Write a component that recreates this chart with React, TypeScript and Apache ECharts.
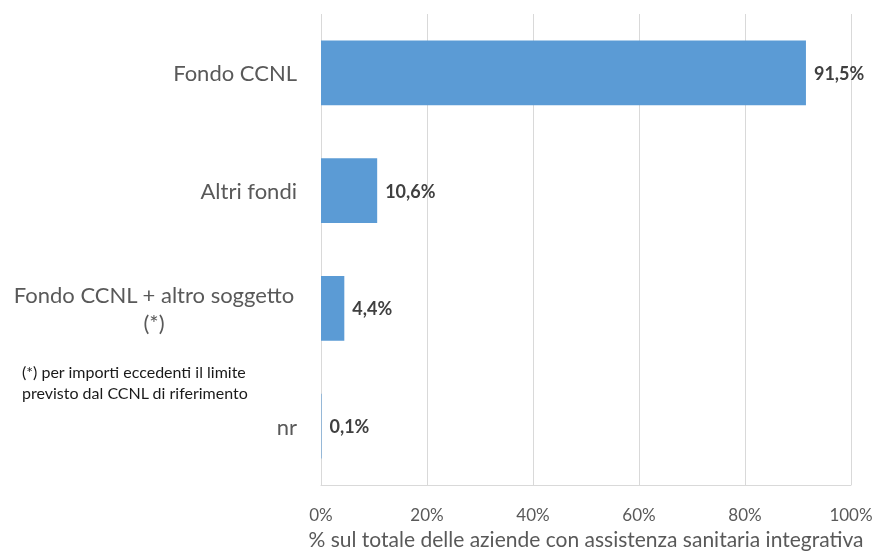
import React, { useEffect, useRef } from "react";
import * as echarts from "echarts";

const categories = ["Fondo CCNL", "Altri fondi", "Fondo CCNL + altro soggetto\n(*)", "nr"];
const values = [91.5, 10.6, 4.4, 0.1];
const xTicks = [0, 20, 40, 60, 80, 100];
const axisTitle = "% sul totale delle aziende con assistenza sanitaria integrativa";
const footnoteLines = ["(*) per importi eccedenti il limite", "previsto dal CCNL di riferimento"];

const FONT = "Lato, 'Noto Sans', sans-serif";

export default function App() {
  const ref = useRef<HTMLDivElement>(null);
  useEffect(() => {
    if (!ref.current) return;
    document.body.style.margin = "0";
    const chart = echarts.init(ref.current, undefined, { renderer: "svg" });
    chart.setOption({
      animation: false,
      textStyle: { fontFamily: FONT },
      grid: { left: 321, right: 26, top: 14, bottom: 65, containLabel: false },
      xAxis: {
        type: "value",
        min: xTicks[0],
        max: xTicks[xTicks.length - 1],
        interval: 20,
        axisLine: { show: true, lineStyle: { color: "#d9d9d9", width: 1 } },
        axisTick: { show: false },
        splitLine: { show: true, lineStyle: { color: "#d9d9d9", width: 1 } },
        axisLabel: {
          formatter: (v: number) => `${v}%`,
          color: "#595959",
          fontSize: 17,
          fontFamily: FONT,
          margin: 21,
        },
        name: axisTitle,
        nameLocation: "middle",
        nameGap: 43,
        nameTextStyle: { color: "#595959", fontSize: 21, fontFamily: FONT },
      },
      yAxis: {
        type: "category",
        data: categories,
        inverse: true,
        axisLine: { show: false },
        axisTick: { show: false },
        axisLabel: {
          color: "#595959",
          fontSize: 22,
          fontFamily: FONT,
          margin: 24,
          lineHeight: 28,
          formatter: (v: string) =>
            v.includes("\n")
              ? v
                  .split("\n")
                  .map((s) => `{m|${s}}`)
                  .join("\n")
              : v,
          rich: {
            m: {
              width: 286,
              align: "center",
              color: "#595959",
              fontSize: 22,
              fontFamily: FONT,
              lineHeight: 28,
            },
          },
        },
      },
      series: [
        {
          type: "bar",
          data: values,
          barCategoryGap: "45%",
          itemStyle: { color: "#5b9bd5" },
          label: {
            show: true,
            position: "right",
            distance: 8,
            color: "#404040",
            fontWeight: "bold",
            fontSize: 18,
            fontFamily: FONT,
            formatter: (p: any) => `${Number(p.value).toFixed(1).replace(".", ",")}%`,
          },
        },
      ],
      graphic: [
        {
          type: "text",
          left: 22,
          top: 361,
          style: {
            text: footnoteLines.join("\n"),
            fill: "#1a1a1a",
            fontSize: 16,
            lineHeight: 21,
            fontFamily: FONT,
          },
        },
      ],
    });
    return () => chart.dispose();
  }, []);
  return <div ref={ref} style={{ position: "fixed", left: 0, top: 0, width: 877, height: 554 }} />;
}
